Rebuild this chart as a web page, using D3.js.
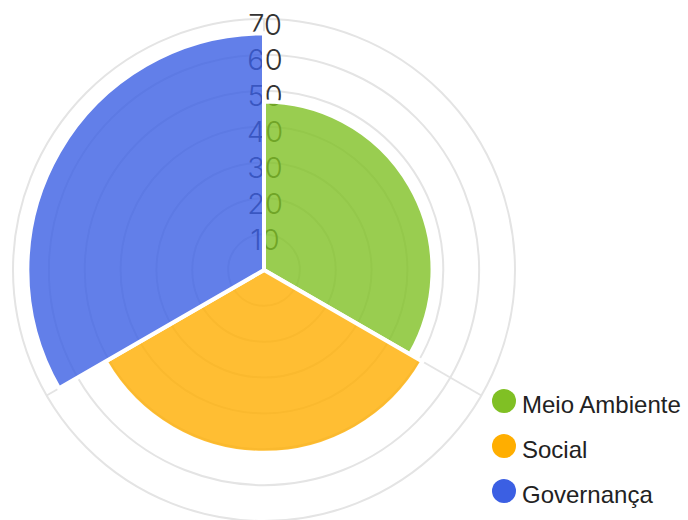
<!DOCTYPE html>
<html>
<head>
<meta charset="utf-8">
<script src="https://cdn.jsdelivr.net/npm/d3@7"></script>
<style>
html,body{margin:0;padding:0;background:#fff;}
svg{display:block;}
</style>
</head>
<body>
<svg id="chart" width="688" height="520"></svg>
<script>
const categories = ["Meio Ambiente", "Social", "Governança"];
const values = [47, 51, 66];
const colors = ["#80c024", "#ffae00", "#3b5fe3"];
const tickValues = [10, 20, 30, 40, 50, 60, 70];

const svg = d3.select("#chart");
const cx = 264, cy = 270;
const r = d3.scaleLinear().domain([0, 70]).range([0, 251]);
const angle = d3.scaleBand().domain(categories).range([0, 2 * Math.PI]).padding(0);

const g = svg.append("g").attr("transform", `translate(${cx},${cy})`);

// grid circles
g.selectAll("circle.grid").data(tickValues).join("circle")
  .attr("class", "grid")
  .attr("r", d => r(d))
  .attr("fill", "none")
  .attr("stroke", "#e4e4e4")
  .attr("stroke-width", 2);

// radial lines
g.selectAll("line.spoke").data(categories).join("line")
  .attr("class", "spoke")
  .attr("x1", 0).attr("y1", 0)
  .attr("x2", d => r(70) * Math.sin(angle(d)))
  .attr("y2", d => -r(70) * Math.cos(angle(d)))
  .attr("stroke", "#e4e4e4")
  .attr("stroke-width", 2);

// tick labels
g.selectAll("text.tick").data(tickValues).join("text")
  .attr("class", "tick")
  .attr("x", 1)
  .attr("y", d => -r(d) + 5)
  .attr("text-anchor", "middle")
  .attr("dominant-baseline", "central")
  .attr("font-family", "Inter, 'Open Sans', sans-serif")
  .attr("font-weight", 300)
  .attr("font-size", 29)
  .attr("fill", "#333")
  .text(d => d);

// slices
const arc = d3.arc()
  .innerRadius(0)
  .outerRadius(d => r(d.value))
  .startAngle(d => angle(d.cat))
  .endAngle(d => angle(d.cat) + angle.bandwidth());

const sliceData = categories.map((c, i) => ({cat: c, value: values[i], color: colors[i]}));
g.selectAll("path.slice").data(sliceData).join("path")
  .attr("class", "slice")
  .attr("d", arc)
  .attr("fill", d => d.color)
  .attr("fill-opacity", 0.8)
  .attr("stroke", "#fff")
  .attr("stroke-width", 4)
  .attr("stroke-linejoin", "miter");

// legend
const legend = svg.append("g");
const items = legend.selectAll("g").data(sliceData).join("g")
  .attr("transform", (d, i) => `translate(504,${401 + i * 45})`);
items.append("circle").attr("r", 12).attr("fill", d => d.color);
items.append("text")
  .attr("x", 18)
  .attr("y", 12)
  .attr("font-family", "'Liberation Sans', Arial, sans-serif")
  .attr("font-size", 24)
  .attr("fill", "#222")
  .text(d => d.cat);
</script>
</body>
</html>
